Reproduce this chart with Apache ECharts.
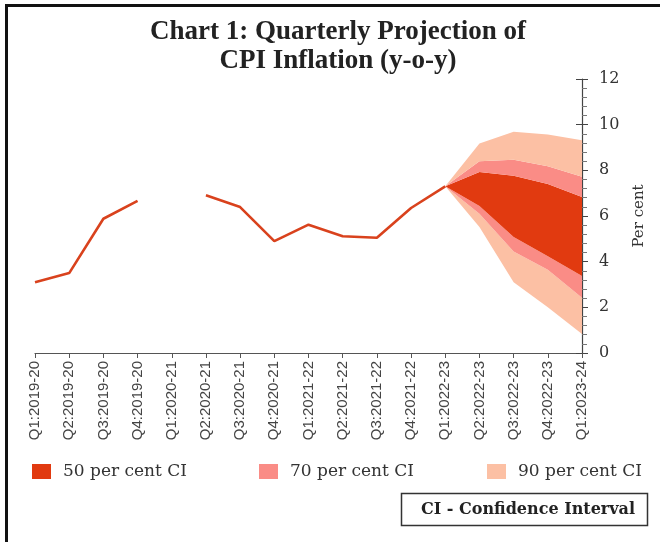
<!DOCTYPE html>
<html>
<head>
<meta charset="utf-8">
<script src="https://cdn.jsdelivr.net/npm/echarts@6/dist/echarts.min.js"></script>
<style>html,body{margin:0;padding:0;background:#fff}#c{width:660px;height:542px}</style>
</head>
<body>
<div id="c"></div>
<script>
const categories = ['Q1:2019-20','Q2:2019-20','Q3:2019-20','Q4:2019-20','Q1:2020-21','Q2:2020-21','Q3:2020-21','Q4:2020-21','Q1:2021-22','Q2:2021-22','Q3:2021-22','Q4:2021-22','Q1:2022-23','Q2:2022-23','Q3:2022-23','Q4:2022-23','Q1:2023-24'];
const actual  = [3.1, 3.5, 5.88, 6.66, null, 6.91, 6.39, 4.9, 5.62, 5.11, 5.05, 6.35, 7.3, null, null, null, null];
const lower90 = [null,null,null,null,null,null,null,null,null,null,null,null, 7.3, 5.52, 3.10, 2.00, 0.83];
const lower70 = [null,null,null,null,null,null,null,null,null,null,null,null, 7.3, 6.10, 4.45, 3.65, 2.42];
const lower50 = [null,null,null,null,null,null,null,null,null,null,null,null, 7.3, 6.44, 5.08, 4.24, 3.37];
const upper50 = [null,null,null,null,null,null,null,null,null,null,null,null, 7.3, 7.93, 7.76, 7.40, 6.83];
const upper70 = [null,null,null,null,null,null,null,null,null,null,null,null, 7.3, 8.40, 8.46, 8.18, 7.72];
const upper90 = [null,null,null,null,null,null,null,null,null,null,null,null, 7.3, 9.17, 9.69, 9.57, 9.32];
const yTicks = [0, 2, 4, 6, 8, 10, 12];

const C50 = '#E13A10', C70 = '#FA8C86', C90 = '#FCC0A4', CLINE = '#D9421D';
const diff = (a, b) => a.map((v, i) => (v == null || b[i] == null) ? null : +(v - b[i]).toFixed(3));

function band(name, data, color) {
  return {
    name: name, type: 'line', stack: 'fan', data: data, symbol: 'none',
    lineStyle: { opacity: 0, width: 0 }, itemStyle: { color: color },
    areaStyle: { color: color, opacity: 1 }, silent: true, z: 2
  };
}

const chart = echarts.init(document.getElementById('c'), null, { renderer: 'canvas' });
const serif = 'DejaVu Serif';
function legendAt(left, name, color) {
  return { left: left, top: 463, padding: 0, itemWidth: 19, itemHeight: 15,
    data: [{ name: name, icon: 'rect', itemStyle: { color: color, opacity: 1, borderWidth: 0 } }],
    textStyle: { fontFamily: serif, fontSize: 17, color: '#333', padding: [0, 0, 0, 7] }, selectedMode: false };
}
chart.setOption({
  animation: false,
  backgroundColor: '#fff',
  grid: { left: 35, right: 78, top: 79, bottom: 189, containLabel: false },
  xAxis: {
    type: 'category', data: categories, boundaryGap: false,
    axisLine: { lineStyle: { color: '#555', width: 1.2 } },
    axisTick: { show: true, length: 5, lineStyle: { color: '#555' }, interval: 0 },
    axisLabel: { interval: 0, rotate: 90, margin: 8, fontFamily: 'Liberation Sans', fontSize: 15, color: '#444' },
    splitLine: { show: false }
  },
  yAxis: [{
    type: 'value', position: 'right', min: 0, max: 12, interval: 2,
    name: 'Per cent', nameLocation: 'middle', nameGap: 50, nameRotate: 90,
    nameTextStyle: { fontFamily: serif, fontSize: 15, color: '#333' },
    axisLine: { show: true, lineStyle: { color: '#444', width: 1.2 } },
    axisTick: { show: true, length: 6, lineStyle: { color: '#444' } },
    minorTick: { show: true, splitNumber: 5, length: 5, lineStyle: { color: '#777' } },
    axisLabel: { margin: 17, fontFamily: serif, fontSize: 16, color: '#333',
      formatter: v => yTicks.indexOf(v) >= 0 ? String(v) : '' },
    splitLine: { show: false }
  }, {
    type: 'value', position: 'right', min: 0, max: 12, interval: 2,
    axisLine: { show: false },
    axisTick: { show: true, inside: true, length: 6, lineStyle: { color: '#444' } },
    axisLabel: { show: false }, splitLine: { show: false }
  }],
  legend: [
    legendAt(32, '50 per cent CI', C50),
    legendAt(259, '70 per cent CI', C70),
    legendAt(487, '90 per cent CI', C90)
  ],
  series: [
    { name: 'base', type: 'line', stack: 'fan', data: lower90, symbol: 'none', lineStyle: { opacity: 0, width: 0 }, silent: true, z: 2 },
    band('90 per cent CI', diff(lower70, lower90), C90),
    band('70 per cent CI', diff(lower50, lower70), C70),
    band('50 per cent CI', diff(upper50, lower50), C50),
    band('70 per cent CI', diff(upper70, upper50), C70),
    band('90 per cent CI', diff(upper90, upper70), C90),
    { name: 'CPI', type: 'line', data: actual, symbol: 'none', connectNulls: false,
      lineStyle: { color: CLINE, width: 2.6 }, itemStyle: { color: CLINE }, z: 5 }
  ],
  graphic: [
    { type: 'rect', shape: { x: 6.5, y: 5.5, width: 700, height: 600 }, style: { fill: 'none', stroke: '#111', lineWidth: 3 }, silent: true },
    { type: 'text', x: 338, y: 32, style: { text: 'Chart 1: Quarterly Projection of', font: 'bold 27px "Liberation Serif"', fill: '#222', textAlign: 'center', textVerticalAlign: 'middle' } },
    { type: 'text', x: 338, y: 61, style: { text: 'CPI Inflation (y-o-y)', font: 'bold 27px "Liberation Serif"', fill: '#222', textAlign: 'center', textVerticalAlign: 'middle' } },
    { type: 'rect', shape: { x: 401.5, y: 493.5, width: 246, height: 32 }, style: { fill: '#fff', stroke: '#333', lineWidth: 1.5 } },
    { type: 'text', x: 528, y: 510, style: { text: 'CI - Confidence Interval', font: 'bold 16px "DejaVu Serif"', fill: '#222', textAlign: 'center', textVerticalAlign: 'middle' } }
  ]
});
</script>
</body>
</html>
